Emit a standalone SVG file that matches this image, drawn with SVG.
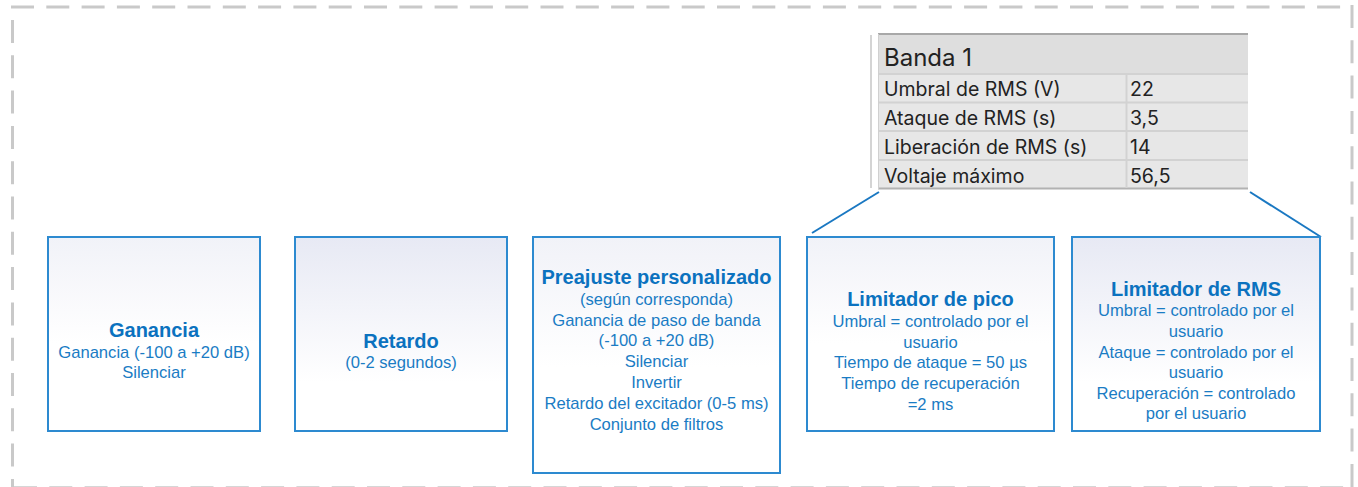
<svg xmlns="http://www.w3.org/2000/svg" width="1358" height="487" viewBox="0 0 1358 487">
<defs>
<linearGradient id="gStrong" x1="0" y1="0" x2="0" y2="1">
<stop offset="0" stop-color="#e7e9f4"/>
<stop offset="0.75" stop-color="#ffffff"/>
</linearGradient>
<linearGradient id="gFaint" x1="0" y1="0" x2="0" y2="1">
<stop offset="0" stop-color="#f1f2f8"/>
<stop offset="0.55" stop-color="#ffffff"/>
</linearGradient>
<style>
.frame{fill:none;stroke:#c9c9c9;stroke-width:3;stroke-dasharray:23 12.3}
.box{stroke:#2d8ad0;stroke-width:2}
.title{font-family:"Liberation Sans",Arial,sans-serif;font-weight:bold;font-size:20px;fill:#0b72bf;text-anchor:middle}
.body{font-family:"Liberation Sans",Arial,sans-serif;font-size:16.6px;fill:#1a7cc4;text-anchor:middle}
.conn{stroke:#1a78c2;stroke-width:2;fill:none}
.th{font-family:Inter,"Liberation Sans",sans-serif;font-size:24px;fill:#222222}
.td{font-family:Inter,"Liberation Sans",sans-serif;font-size:19.5px;fill:#222222}
</style>
</defs>
<rect x="0" y="0" width="1358" height="487" fill="#ffffff"/>
<g id="frame">
<line class="frame" x1="11" y1="7" x2="1345" y2="7"/>
<line class="frame" x1="12.5" y1="20" x2="12.5" y2="487"/>
<line class="frame" x1="1352" y1="5" x2="1352" y2="487"/>
<line class="frame" x1="14" y1="487.8" x2="1345" y2="487.8"/>
</g>
<g id="table">
<line x1="871" y1="35" x2="871" y2="188" stroke="#d4d4d4" stroke-width="2"/>
<rect x="878" y="34" width="370" height="40" fill="#dedede"/>
<rect x="878" y="74" width="370" height="115" fill="#e7e7e7"/>
<line x1="878" y1="34" x2="1248" y2="34" stroke="#a8a8a8" stroke-width="2"/>
<line x1="878" y1="74" x2="1248" y2="74" stroke="#d2d2d2" stroke-width="2"/>
<line x1="878" y1="102.5" x2="1248" y2="102.5" stroke="#d2d2d2" stroke-width="2"/>
<line x1="878" y1="131" x2="1248" y2="131" stroke="#d2d2d2" stroke-width="2"/>
<line x1="878" y1="160" x2="1248" y2="160" stroke="#d2d2d2" stroke-width="2"/>
<line x1="878" y1="188.5" x2="1248" y2="188.5" stroke="#b2b2b2" stroke-width="2"/>
<line x1="1126.5" y1="74" x2="1126.5" y2="188" stroke="#d2d2d2" stroke-width="2"/>
<line x1="878.5" y1="34" x2="878.5" y2="189" stroke="#d0d0d0" stroke-width="1"/>
<text class="th" x="884" y="66">Banda 1</text>
<text class="td" x="884" y="96">Umbral de RMS (V)</text>
<text class="td" x="1130" y="96">22</text>
<text class="td" x="884" y="125">Ataque de RMS (s)</text>
<text class="td" x="1130" y="125">3,5</text>
<text class="td" x="884" y="154">Liberación de RMS (s)</text>
<text class="td" x="1130" y="154">14</text>
<text class="td" x="884" y="182.5">Voltaje máximo</text>
<text class="td" x="1130" y="182.5">56,5</text>
</g>
<g id="connectors">
<line class="conn" x1="879" y1="192" x2="812" y2="233"/>
<line class="conn" x1="1250" y1="192" x2="1321" y2="237"/>
</g>
<g id="ganancia">
<rect class="box" x="48" y="237" width="212" height="194" fill="url(#gFaint)"/>
<text class="title" x="154" y="336.5">Ganancia</text>
<text class="body" x="154" y="357.5">Ganancia (-100 a +20 dB)</text>
<text class="body" x="154" y="378">Silenciar</text>
</g>
<g id="retardo">
<rect class="box" x="295" y="237" width="212" height="194" fill="url(#gStrong)"/>
<text class="title" x="401" y="347.5">Retardo</text>
<text class="body" x="401" y="367.5">(0-2 segundos)</text>
</g>
<g id="preajuste">
<rect class="box" x="533" y="237" width="247" height="236" fill="url(#gFaint)"/>
<text class="title" x="656.5" y="284">Preajuste personalizado</text>
<text class="body" x="656.5" y="304.8">(según corresponda)</text>
<text class="body" x="656.5" y="325.6">Ganancia de paso de banda</text>
<text class="body" x="656.5" y="346.4">(-100 a +20 dB)</text>
<text class="body" x="656.5" y="367.2">Silenciar</text>
<text class="body" x="656.5" y="388">Invertir</text>
<text class="body" x="656.5" y="408.8">Retardo del excitador (0-5 ms)</text>
<text class="body" x="656.5" y="429.6">Conjunto de filtros</text>
</g>
<g id="limitador-pico">
<rect class="box" x="807" y="237" width="247" height="194" fill="url(#gFaint)"/>
<text class="title" x="930.5" y="306">Limitador de pico</text>
<text class="body" x="930.5" y="326.8">Umbral = controlado por el</text>
<text class="body" x="930.5" y="347.6">usuario</text>
<text class="body" x="930.5" y="368.4">Tiempo de ataque = 50 µs</text>
<text class="body" x="930.5" y="389.2">Tiempo de recuperación</text>
<text class="body" x="930.5" y="410">=2 ms</text>
</g>
<g id="limitador-rms">
<rect class="box" x="1072" y="237" width="248" height="194" fill="url(#gStrong)"/>
<text class="title" x="1196" y="295.7">Limitador de RMS</text>
<text class="body" x="1196" y="316.3">Umbral = controlado por el</text>
<text class="body" x="1196" y="337">usuario</text>
<text class="body" x="1196" y="357.5">Ataque = controlado por el</text>
<text class="body" x="1196" y="378">usuario</text>
<text class="body" x="1196" y="398.7">Recuperación = controlado</text>
<text class="body" x="1196" y="419.3">por el usuario</text>
</g>
</svg>
